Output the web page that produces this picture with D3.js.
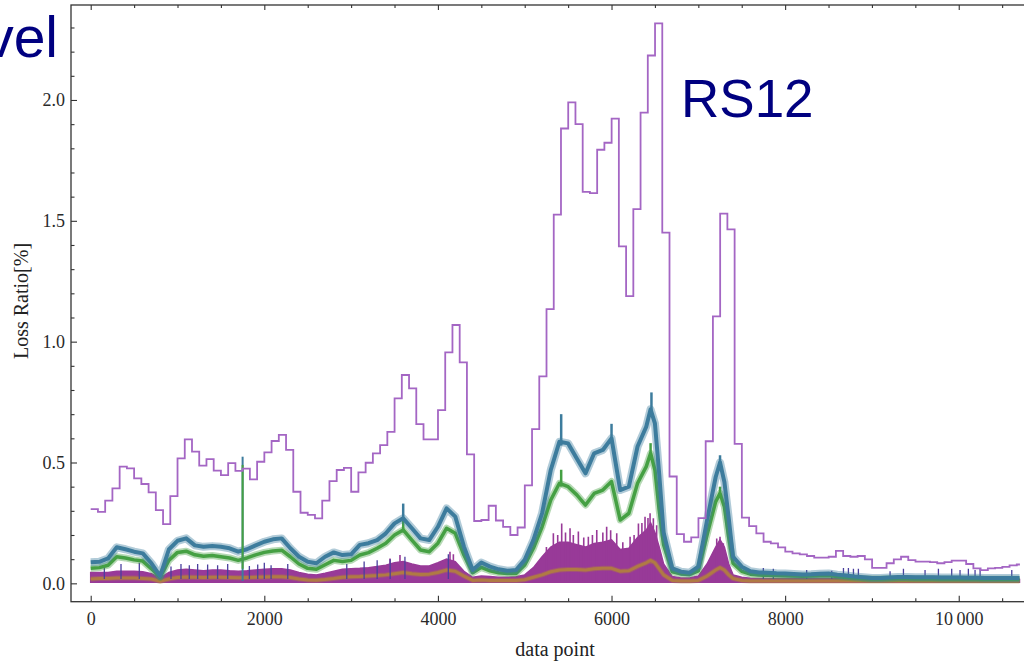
<!DOCTYPE html>
<html lang="en">
<head>
<meta charset="UTF-8">
<title>Loss Ratio RS12</title>
<script src="https://cdnjs.cloudflare.com/ajax/libs/d3/7.8.5/d3.min.js"></script>
<style>
	body {
		margin: 0;
		background: #fff;
		overflow: hidden;
	}

	svg {
		display: block;
	}

	.tick text {
		font-family: "Liberation Serif", "Times New Roman", serif;
		font-size: 18px;
		fill: #2a2a2a;
	}

	.tick line {
		stroke: #333;
		stroke-width: 1.1px;
	}

	.frame {
		fill: none;
		stroke: #333;
		stroke-width: 1.3px;
	}

	.axis-label {
		font-family: "Liberation Serif", "Times New Roman", serif;
		font-size: 20px;
		fill: #222;
	}

	.slide-text {
		font-family: "Liberation Sans", Arial, sans-serif;
		fill: #000080;
	}
</style>
</head>
<body>
<script>
	// step line (RS12), one value per bin of stepWidth data points
	var stepWidth = 83.35;
	var stepEnd = 10705;
	var rs12 = [
		0.307, 0.296, 0.342, 0.393, 0.483, 0.476, 0.434, 0.411, 0.376, 0.303,
		0.245, 0.361, 0.517, 0.596, 0.545, 0.487, 0.514, 0.466, 0.448, 0.497,
		0.465, 0.475, 0.430, 0.503, 0.542, 0.589, 0.614, 0.552, 0.379, 0.292,
		0.283, 0.269, 0.342, 0.423, 0.469, 0.478, 0.379, 0.459, 0.499, 0.538,
		0.572, 0.627, 0.765, 0.862, 0.807, 0.659, 0.596, 0.596, 0.717, 0.956,
		1.069, 0.914, 0.534, 0.258, 0.262, 0.321, 0.260, 0.234, 0.200, 0.231,
		0.405, 0.638, 0.856, 1.135, 1.526, 1.882, 1.990, 1.900, 1.620, 1.615,
		1.794, 1.823, 1.923, 1.394, 1.188, 1.548, 1.948, 2.184, 2.317, 1.451,
		0.442, 0.204, 0.172, 0.190, 0.270, 0.588, 1.105, 1.530, 1.465, 0.577,
		0.272, 0.237, 0.207, 0.172, 0.165, 0.149, 0.131, 0.124, 0.120, 0.113,
		0.106, 0.106, 0.110, 0.134, 0.113, 0.110, 0.113, 0.099, 0.064, 0.064,
		0.083, 0.099, 0.110, 0.096, 0.090, 0.090, 0.088, 0.083, 0.088, 0.094,
		0.094, 0.080, 0.062, 0.055, 0.062, 0.064, 0.068, 0.074, 0.078
	];

	// sample positions shared by the noisy series
	var samples = [
		0, 100, 200, 300, 400, 500, 600, 700, 800, 900,
		1000, 1100, 1200, 1300, 1400, 1500, 1600, 1700, 1800, 1900,
		2000, 2100, 2200, 2300, 2400, 2500, 2600, 2700, 2800, 2900,
		3000, 3100, 3200, 3300, 3400, 3500, 3600, 3700, 3800, 3900,
		4000, 4100, 4200, 4300, 4400, 4500, 4600, 4700, 4800, 4900,
		5000, 5100, 5200, 5300, 5400, 5500, 5600, 5700, 5800, 5900,
		6000, 6100, 6200, 6300, 6400,
		6450, 6500, 6550,
		6600, 6700, 6800, 6900, 7000, 7100, 7200,
		7250, 7300, 7350,
		7400, 7500, 7600, 7700, 7800, 7900, 8000, 8100, 8200, 8300,
		8400, 8500, 8600, 8700, 8800, 8900, 9000, 9100, 9200, 9300,
		9400, 9500, 9600, 9700, 9800, 9900, 10000, 10100, 10200, 10300,
		10400, 10500, 10600, 10700
	];

	var blueSeries = [
		0.087, 0.089, 0.103, 0.149, 0.141, 0.131, 0.124, 0.083, 0.030, 0.140,
		0.176, 0.186, 0.157, 0.151, 0.154, 0.151, 0.145, 0.131, 0.141, 0.157,
		0.172, 0.182, 0.186, 0.145, 0.110, 0.089, 0.083, 0.110, 0.128, 0.117,
		0.120, 0.159, 0.166, 0.179, 0.207, 0.248, 0.269, 0.228, 0.186, 0.179,
		0.234, 0.310, 0.276, 0.152, 0.055, 0.086, 0.069, 0.058, 0.052, 0.055,
		0.097, 0.179, 0.290, 0.469, 0.586, 0.579, 0.517, 0.455, 0.538, 0.552,
		0.600, 0.386, 0.400, 0.566, 0.648,
		0.720, 0.662, 0.450,
		0.210, 0.062, 0.048, 0.044, 0.069, 0.260, 0.440,
		0.500, 0.420, 0.270,
		0.110, 0.069, 0.050, 0.045, 0.044, 0.042, 0.041, 0.039, 0.037, 0.038,
		0.040, 0.041, 0.036, 0.032, 0.028, 0.025, 0.022, 0.022, 0.024, 0.026,
		0.026, 0.025, 0.025, 0.025, 0.024, 0.024, 0.024, 0.023, 0.023, 0.022,
		0.022, 0.022, 0.022, 0.022
	];

	var greenSeries = [
		0.062, 0.065, 0.075, 0.110, 0.105, 0.097, 0.092, 0.060, 0.025, 0.095,
		0.128, 0.133, 0.118, 0.112, 0.115, 0.110, 0.105, 0.095, 0.105, 0.118,
		0.128, 0.134, 0.137, 0.110, 0.080, 0.062, 0.058, 0.077, 0.095, 0.090,
		0.095, 0.117, 0.127, 0.145, 0.166, 0.200, 0.221, 0.179, 0.138, 0.131,
		0.166, 0.228, 0.207, 0.117, 0.044, 0.066, 0.052, 0.044, 0.041, 0.041,
		0.076, 0.145, 0.234, 0.345, 0.414, 0.400, 0.366, 0.324, 0.372, 0.386,
		0.421, 0.262, 0.290, 0.414, 0.483,
		0.538, 0.469, 0.300,
		0.160, 0.048, 0.039, 0.037, 0.052, 0.200, 0.338,
		0.372, 0.317, 0.190,
		0.083, 0.050, 0.038, 0.034, 0.033, 0.032, 0.031, 0.030, 0.029, 0.030,
		0.031, 0.032, 0.028, 0.025, 0.022, 0.020, 0.018, 0.018, 0.019, 0.020,
		0.020, 0.019, 0.019, 0.019, 0.018, 0.018, 0.018, 0.018, 0.018, 0.017,
		0.017, 0.017, 0.017, 0.017
	];

	var magentaTop = [
		0.045, 0.045, 0.045, 0.050, 0.050, 0.050, 0.048, 0.040, 0.022, 0.045,
		0.055, 0.058, 0.055, 0.052, 0.055, 0.055, 0.052, 0.050, 0.052, 0.055,
		0.058, 0.060, 0.060, 0.055, 0.045, 0.038, 0.035, 0.042, 0.050, 0.058,
		0.060, 0.062, 0.065, 0.070, 0.075, 0.085, 0.090, 0.080, 0.072, 0.072,
		0.085, 0.100, 0.090, 0.050, 0.025, 0.030, 0.028, 0.025, 0.025, 0.027,
		0.035, 0.065, 0.110, 0.150, 0.170, 0.170, 0.160, 0.150, 0.165, 0.170,
		0.180, 0.140, 0.145, 0.190, 0.220,
		0.250, 0.210, 0.150,
		0.080, 0.028, 0.022, 0.022, 0.030, 0.080, 0.150,
		0.180, 0.150, 0.080,
		0.035, 0.025, 0.021, 0.020, 0.020, 0.020, 0.020, 0.020, 0.020, 0.020,
		0.020, 0.020, 0.019, 0.018, 0.017, 0.016, 0.016, 0.016, 0.016, 0.016,
		0.016, 0.016, 0.016, 0.016, 0.016, 0.016, 0.016, 0.016, 0.016, 0.016,
		0.016, 0.016, 0.016, 0.016
	];

	var brownSeries = [
		0.018, 0.020, 0.020, 0.022, 0.022, 0.022, 0.020, 0.018, 0.008, 0.018,
		0.024, 0.026, 0.025, 0.024, 0.025, 0.025, 0.024, 0.023, 0.024, 0.025,
		0.026, 0.027, 0.027, 0.024, 0.018, 0.014, 0.013, 0.016, 0.020, 0.025,
		0.027, 0.028, 0.030, 0.032, 0.035, 0.040, 0.045, 0.040, 0.037, 0.038,
		0.045, 0.055, 0.050, 0.030, 0.012, 0.014, 0.012, 0.012, 0.012, 0.012,
		0.015, 0.025, 0.035, 0.048, 0.055, 0.057, 0.057, 0.055, 0.060, 0.062,
		0.062, 0.050, 0.052, 0.070, 0.085,
		0.095, 0.085, 0.060,
		0.035, 0.012, 0.010, 0.010, 0.012, 0.030, 0.055,
		0.065, 0.055, 0.035,
		0.020, 0.012, 0.010, 0.010, 0.010, 0.010, 0.010, 0.010, 0.010, 0.010,
		0.010, 0.010, 0.010, 0.010, 0.010, 0.010, 0.010, 0.010, 0.010, 0.010,
		0.010, 0.010, 0.010, 0.010, 0.010, 0.010, 0.010, 0.010, 0.010, 0.010,
		0.010, 0.010, 0.010, 0.010
	];

	// isolated indigo spikes: [data point, bottom value, top value]
	var indigoSpikes = [
		[157, 0.018, 0.075], [349, 0.018, 0.080], [560, 0.018, 0.085], [925, 0.018, 0.070], [1040, 0.018, 0.080],
		[1136, 0.018, 0.075], [1232, 0.018, 0.080], [1347, 0.018, 0.078], [1462, 0.018, 0.075], [1578, 0.018, 0.080],
		[1828, 0.018, 0.072], [1924, 0.018, 0.078], [2000, 0.018, 0.085], [2078, 0.018, 0.075], [2270, 0.018, 0.080],
		[2950, 0.018, 0.080], [3150, 0.018, 0.090], [3300, 0.018, 0.095], [3450, 0.018, 0.100], [3620, 0.018, 0.110],
		[4120, 0.018, 0.120],
		[7749, 0.018, 0.063], [7864, 0.018, 0.060], [8248, 0.018, 0.055], [8537, 0.018, 0.052], [8672, 0.018, 0.063],
		[8729, 0.018, 0.063], [8787, 0.018, 0.060], [8844, 0.018, 0.060], [9209, 0.018, 0.050], [9363, 0.018, 0.060],
		[9612, 0.018, 0.055], [9766, 0.018, 0.060], [9919, 0.018, 0.060], [10015, 0.018, 0.055], [10111, 0.018, 0.060],
		[10188, 0.018, 0.055], [10246, 0.018, 0.060], [10611, 0.018, 0.055]
	];

	// jagged magenta spikes above the dense band: [data point, bottom value, top value]
	var magentaSpikes = [
		[3448, 0.01, 0.103], [3563, 0.01, 0.117], [4139, 0.01, 0.131], [4178, 0.01, 0.120],
		[5250, 0.01, 0.150], [5330, 0.01, 0.207], [5380, 0.01, 0.200], [5426, 0.01, 0.248], [5470, 0.01, 0.210],
		[5522, 0.01, 0.228], [5560, 0.01, 0.200], [5618, 0.01, 0.214], [5680, 0.01, 0.190], [5733, 0.01, 0.193],
		[5780, 0.01, 0.200], [5830, 0.01, 0.221], [5900, 0.01, 0.210], [5944, 0.01, 0.234], [5990, 0.01, 0.220],
		[6060, 0.01, 0.207], [6130, 0.01, 0.170], [6214, 0.01, 0.193], [6260, 0.01, 0.200], [6310, 0.01, 0.248],
		[6350, 0.01, 0.250], [6386, 0.01, 0.276], [6420, 0.01, 0.270], [6444, 0.01, 0.290], [6482, 0.01, 0.269],
		[6520, 0.01, 0.240], [7212, 0.01, 0.186], [7250, 0.01, 0.193], [7288, 0.01, 0.166]
	];

	// noise peaks of the upper two bands: [data point, bottom value, top value]
	var blueSpikes = [[3600, 0.26, 0.33], [5420, 0.57, 0.70], [6000, 0.58, 0.66], [6460, 0.70, 0.79], [7250, 0.48, 0.53]];
	var greenSpikes = [[3600, 0.21, 0.26], [5420, 0.40, 0.47], [6450, 0.52, 0.58], [7250, 0.36, 0.40]];

	// the single glitch near data point 1750
	var glitchSpikes = [[1750, 0.01, 0.524, "blue"], [1750, 0.06, 0.49, "green"]];

	var xMajor = [0, 2000, 4000, 6000, 8000, 10000];
	var xMinor = [500, 1000, 1500, 2500, 3000, 3500, 4500, 5000, 5500, 6500, 7000, 7500, 8500, 9000, 9500, 10500];
	var yMajor = [0, 0.5, 1.0, 1.5, 2.0];
	var yMinor = [0.1, 0.2, 0.3, 0.4, 0.6, 0.7, 0.8, 0.9, 1.1, 1.2, 1.3, 1.4, 1.6, 1.7, 1.8, 1.9, 2.1, 2.2, 2.3];

	var colors = {
		purple: "#a466c4",
		blue: "#3d7c9d",
		green: "#45a043",
		magenta: "#983a98",
		brown: "#b07a44",
		indigo: "#4a3f9e"
	};

	var width = 1024, height = 663;
	var plotLeft = 71, plotRight = 1030, plotTop = 5, plotBottom = 601.7;

	var svg = d3.select("body").append("svg")
		.attr("width", width)
		.attr("height", height);

	var x = d3.scaleLinear().domain([-227, 10821]).range([plotLeft, plotRight]);
	var y = d3.scaleLinear().domain([-0.076, 2.393]).range([plotBottom, plotTop]);

	svg.append("clipPath").attr("id", "plotclip")
		.append("rect")
		.attr("x", plotLeft).attr("y", plotTop)
		.attr("width", plotRight - plotLeft).attr("height", plotBottom - plotTop);

	var plot = svg.append("g").attr("clip-path", "url(#plotclip)");

	var rows = samples.map(function (d, i) {
		return {x: d, blue: blueSeries[i], green: greenSeries[i], mag: magentaTop[i], brown: brownSeries[i]};
	});

	function spikes(data, color, w) {
		plot.append("g").selectAll("line")
			.data(data)
			.enter().append("line")
			.attr("x1", function (d) { return x(d[0]); })
			.attr("x2", function (d) { return x(d[0]); })
			.attr("y1", function (d) { return y(d[1]); })
			.attr("y2", function (d) { return y(d[2]); })
			.attr("stroke", function (d) { return d[3] ? colors[d[3]] : color; })
			.attr("stroke-width", w);
	}

	function band(key, color, core, halo) {
		var line = d3.line()
			.x(function (d) { return x(d.x); })
			.y(function (d) { return y(d[key]); });
		plot.append("path")
			.datum(rows)
			.attr("fill", "none")
			.attr("stroke", color)
			.attr("stroke-opacity", 0.4)
			.attr("stroke-width", halo)
			.attr("stroke-linejoin", "round")
			.attr("d", line);
		plot.append("path")
			.datum(rows)
			.attr("fill", "none")
			.attr("stroke", color)
			.attr("stroke-width", core)
			.attr("stroke-linejoin", "round")
			.attr("d", line);
	}

	// magenta band
	plot.append("path")
		.datum(rows)
		.attr("fill", colors.magenta)
		.attr("stroke", colors.magenta)
		.attr("stroke-width", 1.5)
		.attr("d", d3.area()
			.x(function (d) { return x(d.x); })
			.y0(function (d) { return y(0.004); })
			.y1(function (d) { return y(d.mag); }));
	spikes(magentaSpikes, colors.magenta, 1.6);

	// brown band
	band("brown", colors.brown, 3, 5);

	// indigo spikes
	spikes(indigoSpikes, colors.indigo, 1.3);

	// green and blue bands
	band("green", colors.green, 3.5, 7);
	spikes(greenSpikes, colors.green, 2.5);
	band("blue", colors.blue, 4, 8);
	spikes(blueSpikes, colors.blue, 2.5);

	// glitch at 1750
	spikes(glitchSpikes, colors.blue, 2);

	// RS12 step line
	var stepPts = rs12.map(function (v, i) { return [i * stepWidth, v]; });
	stepPts.push([stepEnd, rs12[rs12.length - 1]]);
	plot.append("path")
		.datum(stepPts)
		.attr("fill", "none")
		.attr("stroke", colors.purple)
		.attr("stroke-width", 1.8)
		.attr("d", d3.line()
			.curve(d3.curveStepAfter)
			.x(function (d) { return x(Math.min(d[0], stepEnd)); })
			.y(function (d) { return y(d[1]); }));

	// axes with inward ticks
	function fmtX(d) {
		return d === 10000 ? "10\u2009000" : d;
	}

	function clean(g) {
		g.select(".domain").remove();
	}

	svg.append("g")
		.attr("transform", "translate(0," + plotBottom + ")")
		.call(d3.axisBottom(x).tickValues(xMajor).tickSize(-6).tickPadding(11).tickFormat(fmtX))
		.call(clean);
	svg.append("g")
		.attr("transform", "translate(0," + plotBottom + ")")
		.call(d3.axisBottom(x).tickValues(xMinor).tickSize(-3.5).tickFormat(""))
		.call(clean);
	svg.append("g")
		.attr("transform", "translate(0," + plotTop + ")")
		.call(d3.axisTop(x).tickValues(xMajor).tickSize(-5).tickFormat(""))
		.call(clean);
	svg.append("g")
		.attr("transform", "translate(0," + plotTop + ")")
		.call(d3.axisTop(x).tickValues(xMinor).tickSize(-3).tickFormat(""))
		.call(clean);
	svg.append("g")
		.attr("transform", "translate(" + plotLeft + ",0)")
		.call(d3.axisLeft(y).tickValues(yMajor).tickSize(-6).tickPadding(6).tickFormat(d3.format(".1f")))
		.call(clean);
	svg.append("g")
		.attr("transform", "translate(" + plotLeft + ",0)")
		.call(d3.axisLeft(y).tickValues(yMinor).tickSize(-3.5).tickFormat(""))
		.call(clean);

	svg.append("rect")
		.attr("class", "frame")
		.attr("x", plotLeft).attr("y", plotTop)
		.attr("width", plotRight - plotLeft).attr("height", plotBottom - plotTop);

	svg.append("text")
		.attr("class", "axis-label")
		.attr("text-anchor", "middle")
		.attr("transform", "translate(27.5,301) rotate(-90)")
		.text("Loss Ratio[%]");

	svg.append("text")
		.attr("class", "axis-label")
		.attr("text-anchor", "middle")
		.attr("x", 555).attr("y", 656)
		.text("data point");

	// slide title fragment, cut by the left edge as in the source slide
	svg.append("text")
		.attr("class", "slide-text")
		.attr("text-anchor", "end")
		.attr("x", 58).attr("y", 57)
		.style("font-size", "57px")
		.text("vel");

	svg.append("text")
		.attr("class", "slide-text")
		.attr("x", 681).attr("y", 117)
		.style("font-size", "53px")
		.text("RS12");
</script>
</body>
</html>
